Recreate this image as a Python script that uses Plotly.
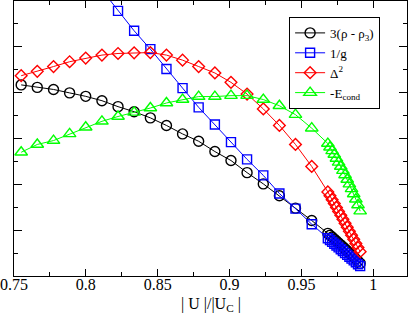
import plotly.graph_objects as go

x_main = [0.7550, 0.7662, 0.7775, 0.7887, 0.7999, 0.8112, 0.8224, 0.8336, 0.8449, 0.8561,
          0.8673, 0.8785, 0.8898, 0.9010, 0.9122, 0.9235, 0.9347, 0.9459, 0.9572]
x_dense = [0.9684, 0.9699, 0.9714, 0.9729, 0.9744, 0.9759, 0.9774, 0.9789, 0.9804, 0.9819,
           0.9834, 0.9849, 0.9864, 0.9879, 0.9894, 0.9909]

rho_main = [8.34, 8.23, 8.14, 7.99, 7.84, 7.65, 7.39, 7.17, 6.90, 6.57,
            6.20, 5.88, 5.43, 5.04, 4.51, 4.02, 3.50, 2.96, 2.42]
rho_dense = [1.86, 1.78, 1.70, 1.61, 1.53, 1.44, 1.36, 1.27, 1.19, 1.10,
             1.01, 0.92, 0.83, 0.74, 0.65, 0.55]

# 1/g visible from index 5 of the main grid
invg_main = [12.48, 11.57, 10.70, 9.90, 9.03, 8.20, 7.36, 6.61, 5.84, 5.09,
             4.39, 3.60, 2.94, 2.26]
invg_dense = [1.65, 1.57, 1.49, 1.41, 1.33, 1.25, 1.17, 1.09, 1.00, 0.92,
              0.84, 0.76, 0.68, 0.60, 0.51, 0.43]

delta_main = [8.74, 8.93, 9.14, 9.35, 9.51, 9.64, 9.71, 9.74, 9.75, 9.64,
              9.42, 9.14, 8.86, 8.45, 7.94, 7.29, 6.57, 5.74, 4.78]
delta_dense = [3.67, 3.50, 3.33, 3.16, 2.99, 2.82, 2.65, 2.48, 2.30, 2.13,
               1.95, 1.78, 1.60, 1.42, 1.24, 1.06]

econd_main = [5.40, 5.74, 5.91, 6.20, 6.49, 6.75, 6.96, 7.14, 7.33, 7.55,
              7.70, 7.83, 7.83, 7.87, 7.87, 7.70, 7.43, 7.04, 6.45]
econd_dense = [5.78, 5.62, 5.46, 5.30, 5.13, 4.96, 4.78, 4.60, 4.41, 4.21,
               4.01, 3.80, 3.58, 3.35, 3.10, 2.83]

names = ["3(\u03c1 - \u03c1<sub>3</sub>)", "1/g", "\u0394<sup>2</sup>", "-E<sub>cond</sub>"]
colors = ["#000000", "#0000ff", "#ff0000", "#00ff00"]
symbols = ["circle-open", "square-open", "diamond-open", "triangle-up-open"]
sizes = [10, 9, 9, 11]

series = [
    (x_main + x_dense, rho_main + rho_dense),
    (x_main[5:] + x_dense, invg_main + invg_dense),
    (x_main + x_dense, delta_main + delta_dense),
    (x_main + x_dense, econd_main + econd_dense),
]

SERIF = "Liberation Serif, Times New Roman, serif"

fig = go.Figure()
for (xs, ys), nm, c, s, sz in zip(series, names, colors, symbols, sizes):
    fig.add_trace(go.Scatter(
        x=xs, y=ys, name=nm, mode="lines+markers",
        line=dict(color=c, width=1),
        marker=dict(symbol=s, size=sz, color=c, line=dict(color=c, width=1.4)),
    ))

axis_common = dict(
    showline=True, linecolor="black", linewidth=1, mirror="allticks",
    ticks="inside", tickcolor="black", showgrid=False, zeroline=False,
    automargin=False,
)

fig.update_layout(
    width=409, height=313,
    margin=dict(l=14, r=2, t=1, b=37),
    paper_bgcolor="white", plot_bgcolor="white",
    font=dict(family=SERIF, size=16, color="black"),
    xaxis=dict(
        range=[0.75, 1.0235], tickvals=[0.75, 0.8, 0.85, 0.9, 0.95, 1.0],
        ticktext=["0.75", "0.8", "0.85", "0.9", "0.95", "1"],
        ticklen=7, tickwidth=1, ticklabeloverflow="allow", ticklabelstandoff=-6,
        tickfont=dict(family=SERIF, size=16),
        minor=dict(dtick=0.025, tick0=0.75, ticklen=4, ticks="inside", tickcolor="black"),
        **axis_common,
    ),
    yaxis=dict(
        range=[0, 12], tick0=0, dtick=2, showticklabels=False,
        ticklen=8, tickwidth=1,
        minor=dict(dtick=1, tick0=0, ticklen=4, ticks="inside", tickcolor="black"),
        **axis_common,
    ),
    annotations=[dict(
        text="| U |/|U<sub>C</sub> |", xref="paper", yref="paper",
        x=0.5, y=-0.105, xanchor="center", yanchor="middle", showarrow=False,
        font=dict(family=SERIF, size=16),
    )],
    legend=dict(
        x=0.70, y=0.942, xanchor="left", yanchor="top",
        bgcolor="white", bordercolor="black", borderwidth=1,
        font=dict(family=SERIF, size=13),
        tracegroupgap=0, itemwidth=30,
    ),
    showlegend=True,
)

fig.write_html(
    "out.html",
    config={"displayModeBar": False},
    post_script="document.body.style.margin='0';document.body.style.overflow='hidden';",
)
